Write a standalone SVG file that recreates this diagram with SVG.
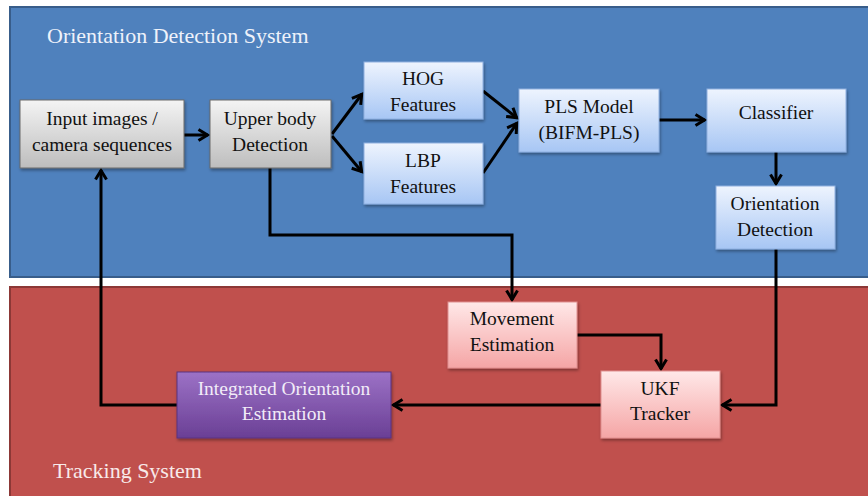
<svg xmlns="http://www.w3.org/2000/svg" width="868" height="496" viewBox="0 0 868 496">
<defs>
<linearGradient id="gGray" x1="0" y1="0" x2="0" y2="1"><stop offset="0" stop-color="#f4f4f4"/><stop offset="1" stop-color="#bdbdbd"/></linearGradient>
<linearGradient id="gBlue" x1="0" y1="0" x2="0" y2="1"><stop offset="0" stop-color="#eef4fe"/><stop offset="1" stop-color="#a7c6f4"/></linearGradient>
<linearGradient id="gPink" x1="0" y1="0" x2="0" y2="1"><stop offset="0" stop-color="#ffe8e8"/><stop offset="1" stop-color="#f5a5a5"/></linearGradient>
<linearGradient id="gPurple" x1="0" y1="0" x2="0" y2="1"><stop offset="0" stop-color="#9c72c6"/><stop offset="1" stop-color="#6a3f95"/></linearGradient>
<filter id="sh" x="-10%" y="-10%" width="130%" height="140%"><feDropShadow dx="1" dy="2" stdDeviation="1.5" flood-color="#000" flood-opacity="0.35"/></filter>
<marker id="arr" viewBox="0 0 14 14" refX="11.5" refY="7" markerWidth="14" markerHeight="14" markerUnits="userSpaceOnUse" orient="auto"><path d="M2,1.5 L11,7 L2,12.5" fill="none" stroke="#000" stroke-width="3"/></marker>
</defs>
<style>
.panel{stroke-width:2}
.box{stroke-width:1;filter:url(#sh)}
.gray{fill:url(#gGray);stroke:#6b6b6b}
.blue{fill:url(#gBlue);stroke:#8fb0e0}
.pink{fill:url(#gPink);stroke:#e09090}
.purple{fill:url(#gPurple);stroke:#5a3380}
text{font-family:"Liberation Serif","Times New Roman",serif;font-size:19.5px;text-anchor:middle;fill:#111}
.title{font-size:22px;text-anchor:start;fill:#eef2fa}
.lt{fill:#f2ecf8}
.con{fill:none;stroke:#000;stroke-width:3;marker-end:url(#arr)}
</style>
<rect width="868" height="496" fill="#ffffff"/>
<g id="orientation-panel">
<rect class="panel" x="10" y="7" width="870" height="270" fill="#4f81bd" stroke="#385d8a"/>
<text class="title" x="47" y="43">Orientation Detection System</text>
</g>
<g id="tracking-panel">
<rect class="panel" x="10" y="287" width="870" height="220" fill="#c0504d" stroke="#8c3836"/>
<text class="title" x="53" y="478" style="fill:#f8eaea">Tracking System</text>
</g>
<g id="connectors">
<path class="con" d="M184,135 H208"/>
<path class="con" d="M332,134 L362,94"/>
<path class="con" d="M332,136 L362,172"/>
<path class="con" d="M483,91 L517,118"/>
<path class="con" d="M483,173 L517,123"/>
<path class="con" d="M659,120 H705"/>
<path class="con" d="M776,152 V184"/>
<path class="con" d="M270,168 V235 H512 V300"/>
<path class="con" d="M577,335 H661 V369"/>
<path class="con" d="M776,249 V405 H722"/>
<path class="con" d="M601,405 H393"/>
<path class="con" d="M177,405 H101 V170"/>
</g>
<g id="input"><rect class="box gray" x="20" y="100" width="164" height="68"/><text x="102" y="125">Input images /</text><text x="102" y="151">camera sequences</text></g>
<g id="upper-body"><rect class="box gray" x="210" y="100" width="121" height="68"/><text x="270" y="125">Upper body</text><text x="270" y="151">Detection</text></g>
<g id="hog"><rect class="box blue" x="364" y="62" width="119" height="57"/><text x="423" y="85">HOG</text><text x="423" y="111">Features</text></g>
<g id="lbp"><rect class="box blue" x="364" y="143" width="119" height="61"/><text x="423" y="167">LBP</text><text x="423" y="193">Features</text></g>
<g id="pls"><rect class="box blue" x="519" y="89" width="140" height="63"/><text x="589" y="113">PLS Model</text><text x="589" y="139">(BIFM-PLS)</text></g>
<g id="classifier"><rect class="box blue" x="707" y="89" width="139" height="63"/><text x="776" y="119">Classifier</text></g>
<g id="orientation-detection"><rect class="box blue" x="716" y="186" width="119" height="63"/><text x="775" y="210">Orientation</text><text x="775" y="236">Detection</text></g>
<g id="movement"><rect class="box pink" x="448" y="302" width="129" height="66"/><text x="512" y="325">Movement</text><text x="512" y="351">Estimation</text></g>
<g id="ukf"><rect class="box pink" x="601" y="371" width="119" height="67"/><text x="660" y="395">UKF</text><text x="660" y="420">Tracker</text></g>
<g id="integrated"><rect class="box purple" x="177" y="372" width="214" height="66"/><text class="lt" x="284" y="395">Integrated Orientation</text><text class="lt" x="284" y="420">Estimation</text></g>
</svg>
